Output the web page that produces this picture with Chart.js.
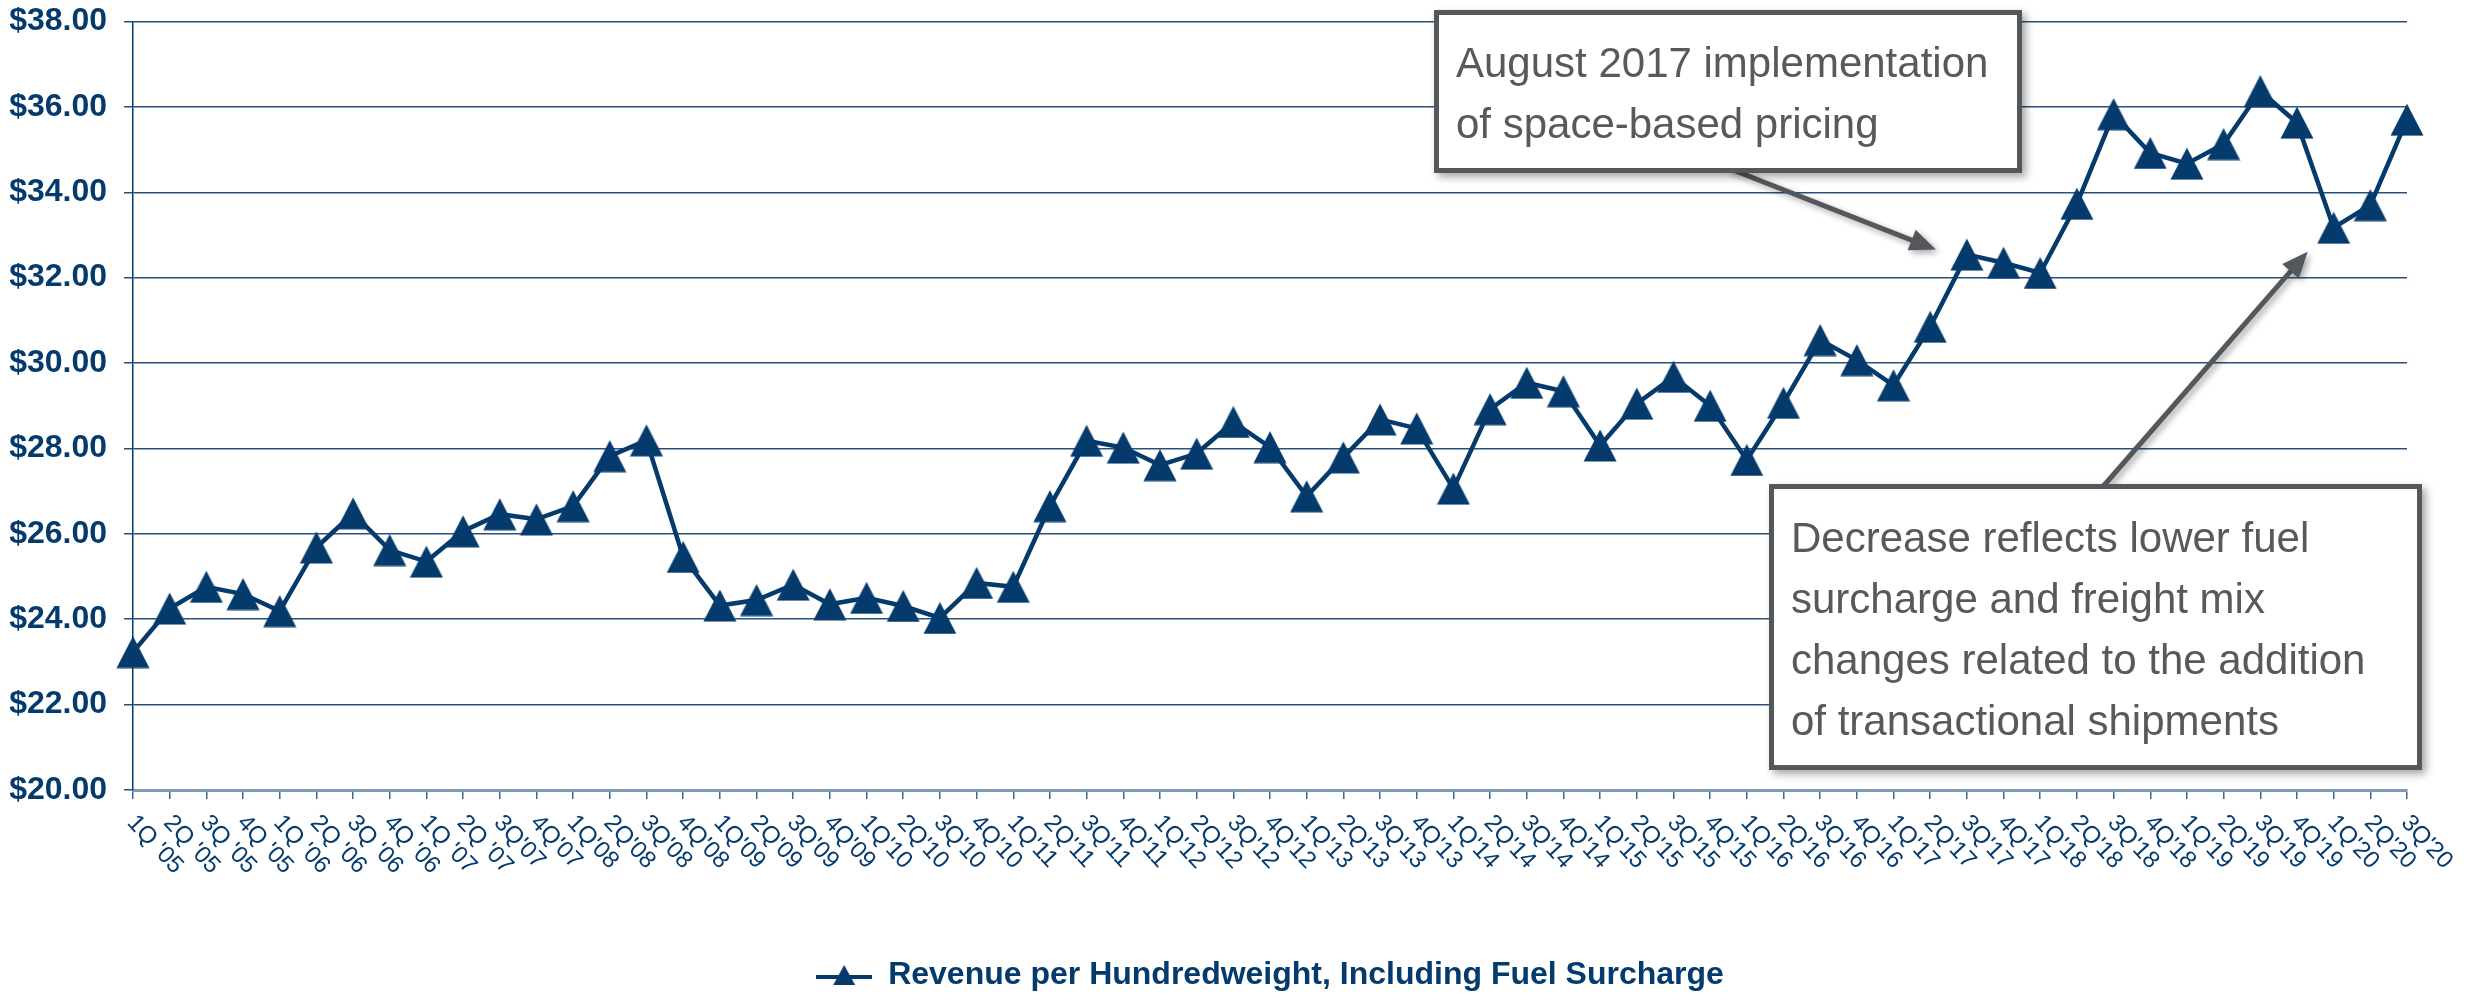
<!DOCTYPE html>
<html>
<head>
<meta charset="utf-8">
<script src="https://cdn.jsdelivr.net/npm/chart.js@4.4.0/dist/chart.umd.min.js"></script>
<style>
  body { margin: 0; background: #fff; }
  #wrap { width: 2483px; height: 1001px; position: relative; }
</style>
</head>
<body>
<div id="wrap"><canvas id="myChart"></canvas></div>
<script>
let quarters = [
  "1Q '05", "2Q '05", "3Q '05", "4Q '05",
  "1Q '06", "2Q '06", "3Q '06", "4Q '06",
  "1Q '07", "2Q '07", "3Q'07", "4Q'07",
  "1Q'08", "2Q'08", "3Q'08", "4Q'08",
  "1Q'09", "2Q'09", "3Q'09", "4Q'09",
  "1Q'10", "2Q'10", "3Q'10", "4Q'10",
  "1Q'11", "2Q'11", "3Q'11", "4Q'11",
  "1Q'12", "2Q'12", "3Q'12", "4Q'12",
  "1Q'13", "2Q'13", "3Q'13", "4Q'13",
  "1Q'14", "2Q'14", "3Q'14", "4Q'14",
  "1Q'15", "2Q'15", "3Q'15", "4Q'15",
  "1Q'16", "2Q'16", "3Q'16", "4Q'16",
  "1Q'17", "2Q'17", "3Q'17", "4Q'17",
  "1Q'18", "2Q'18", "3Q'18", "4Q'18",
  "1Q'19", "2Q'19", "3Q'19", "4Q'19",
  "1Q'20", "2Q'20", "3Q'20"
];

let revenuePerCwt = [
  23.23, 24.25, 24.76, 24.59,
  24.19, 25.68, 26.48, 25.62,
  25.35, 26.06, 26.46, 26.34,
  26.65, 27.82, 28.19, 25.46,
  24.32, 24.45, 24.81, 24.35,
  24.50, 24.31, 24.03, 24.85,
  24.76, 26.65, 28.18, 28.02,
  27.61, 27.88, 28.62, 28.03,
  26.88, 27.79, 28.68, 28.47,
  27.06, 28.92, 29.54, 29.34,
  28.07, 29.05, 29.68, 29.00,
  27.73, 29.07, 30.54, 30.07,
  29.48, 30.85, 32.54, 32.35,
  32.11, 33.73, 35.83, 34.92,
  34.67, 35.13, 36.37, 35.63,
  33.17, 33.70, 35.70
];

let seriesName = 'Revenue per Hundredweight, Including Fuel Surcharge';
let yMin = 20;
let yMax = 38;
let yStep = 2;

let noteSpacePricing = ['August 2017 implementation', 'of space-based pricing'];
let noteDecrease = [
  'Decrease reflects lower fuel',
  'surcharge and freight mix',
  'changes related to the addition',
  'of transactional shipments'
];

let navy = '#053A6D';
let noteGrey = '#54585C';
let fontName = "'Liberation Sans', Arial, Helvetica, sans-serif";

// triangle marker, box centred on the point like the office chart
function makeTriangle(w, h) {
  let c = document.createElement('canvas');
  c.width = w;
  c.height = h;
  let g = c.getContext('2d');
  g.fillStyle = navy;
  g.beginPath();
  g.moveTo(w / 2, 0.5);
  g.lineTo(w - 0.5, h - 0.5);
  g.lineTo(0.5, h - 0.5);
  g.closePath();
  g.fill();
  return c;
}

function makeLegendMark() {
  let c = document.createElement('canvas');
  c.width = 56;
  c.height = 24;
  let g = c.getContext('2d');
  g.strokeStyle = navy;
  g.lineWidth = 4;
  g.beginPath();
  g.moveTo(0, 14);
  g.lineTo(56, 14);
  g.stroke();
  g.fillStyle = navy;
  g.beginPath();
  g.moveTo(28, 2);
  g.lineTo(39, 22);
  g.lineTo(17, 22);
  g.closePath();
  g.fill();
  return c;
}

let marker = makeTriangle(34, 33);
let legendMark = makeLegendMark();

function drawArrow(ctx, x1, y1, x2, y2) {
  let ang = Math.atan2(y2 - y1, x2 - x1);
  let headLen = 26;
  let headW = 11;
  let bx = x2 - Math.cos(ang) * headLen;
  let by = y2 - Math.sin(ang) * headLen;
  ctx.save();
  ctx.shadowColor = 'rgba(0,0,0,0.35)';
  ctx.shadowBlur = 6;
  ctx.shadowOffsetX = 3;
  ctx.shadowOffsetY = 3;
  ctx.strokeStyle = noteGrey;
  ctx.fillStyle = noteGrey;
  ctx.lineWidth = 5;
  ctx.beginPath();
  ctx.moveTo(x1, y1);
  ctx.lineTo(bx + Math.cos(ang) * 4, by + Math.sin(ang) * 4);
  ctx.stroke();
  ctx.beginPath();
  ctx.moveTo(x2, y2);
  ctx.lineTo(bx - Math.sin(ang) * headW, by + Math.cos(ang) * headW);
  ctx.lineTo(bx + Math.sin(ang) * headW, by - Math.cos(ang) * headW);
  ctx.closePath();
  ctx.fill();
  ctx.restore();
}

function drawNote(ctx, x, y, w, h, lines, textX, firstBase) {
  ctx.save();
  ctx.shadowColor = 'rgba(0,0,0,0.35)';
  ctx.shadowBlur = 8;
  ctx.shadowOffsetX = 4;
  ctx.shadowOffsetY = 4;
  ctx.fillStyle = '#fff';
  ctx.fillRect(x, y, w, h);
  ctx.restore();
  ctx.save();
  ctx.lineWidth = 5;
  ctx.strokeStyle = noteGrey;
  ctx.strokeRect(x + 2.5, y + 2.5, w - 5, h - 5);
  ctx.fillStyle = '#595959';
  ctx.font = '42px ' + fontName;
  ctx.textAlign = 'left';
  ctx.textBaseline = 'alphabetic';
  lines.forEach((t, i) => ctx.fillText(t, textX, firstBase + i * 61));
  ctx.restore();
}

let extrasPlugin = {
  id: 'extras',
  afterDraw(chart) {
    let ctx = chart.ctx;
    let xs = chart.scales.x;
    let ys = chart.scales.y;

    // quarter labels, turned clockwise under each tick
    ctx.save();
    ctx.fillStyle = navy;
    ctx.font = '24px ' + fontName;
    ctx.textAlign = 'left';
    ctx.textBaseline = 'middle';
    quarters.forEach((q, i) => {
      let px = xs.getPixelForValue(i);
      ctx.save();
      ctx.translate(px - 2, ys.bottom + 29);
      ctx.rotate(47 * Math.PI / 180);
      ctx.fillText(q, 0, 0);
      ctx.restore();
    });
    ctx.restore();

    // callouts
    let tip1x = xs.getPixelForValue(50) - 31;
    let tip1y = ys.getPixelForValue(revenuePerCwt[50]) - 5;
    let tip2x = xs.getPixelForValue(60) - 26;
    let tip2y = ys.getPixelForValue(revenuePerCwt[60]) + 24;

    drawArrow(ctx, 1728, 168, tip1x, tip1y);
    drawNote(ctx, 1434, 10, 588, 163, noteSpacePricing, 1456, 77);

    drawArrow(ctx, 2100, 490, tip2x, tip2y);
    drawNote(ctx, 1769, 484, 653, 286, noteDecrease, 1791, 552);
  }
};

let ctx = document.getElementById('myChart').getContext('2d');
let myChart = new Chart(ctx, {
  type: 'line',
  data: {
    labels: quarters,
    datasets: [
      {
        label: seriesName,
        data: revenuePerCwt,
        borderColor: navy,
        backgroundColor: navy,
        borderWidth: 4.5,
        tension: 0,
        pointStyle: marker,
        pointRadius: 17,
        pointHoverRadius: 17,
      },
    ],
  },
  plugins: [extrasPlugin],
  options: {
    responsive: true,
    maintainAspectRatio: false,
    animation: false,
    devicePixelRatio: 1,
    layout: {
      padding: { top: 19, right: 76, bottom: 0, left: 0 },
    },
    plugins: {
      tooltip: { enabled: false },
      legend: {
        position: 'bottom',
        fullSize: false,
        labels: {
          usePointStyle: true,
          pointStyleWidth: 56,
          padding: 12,
          color: navy,
          font: { family: fontName, size: 32, weight: 'bold' },
          generateLabels(chart) {
            return chart.data.datasets.map((ds, i) => ({
              text: ds.label,
              fillStyle: navy,
              strokeStyle: navy,
              lineWidth: 0,
              pointStyle: legendMark,
              fontColor: navy,
              datasetIndex: i,
              hidden: false,
            }));
          },
        },
      },
    },
    scales: {
      x: {
        offset: false,
        afterFit(scale) {
          scale.height = 157;
          scale.paddingLeft = 0;
          scale.paddingRight = 0;
        },
        ticks: { display: false },
        grid: {
          drawOnChartArea: false,
          drawTicks: true,
          tickLength: 9,
          color: '#3A6590',
          lineWidth: 1.5,
        },
        border: { color: '#7F9BB8', width: 3 },
      },
      y: {
        min: yMin,
        max: yMax,
        afterFit(scale) {
          scale.width = 133;
          scale.paddingTop = 0;
          scale.paddingBottom = 0;
        },
        ticks: {
          stepSize: yStep,
          padding: 17,
          color: navy,
          font: { family: fontName, size: 32, weight: 'bold' },
          callback: (v) => '$' + Number(v).toFixed(2),
        },
        grid: {
          color: '#28527E',
          lineWidth: 1.5,
          tickLength: 9,
        },
        border: { color: navy, width: 1.5 },
      },
    },
  },
});
</script>
</body>
</html>
